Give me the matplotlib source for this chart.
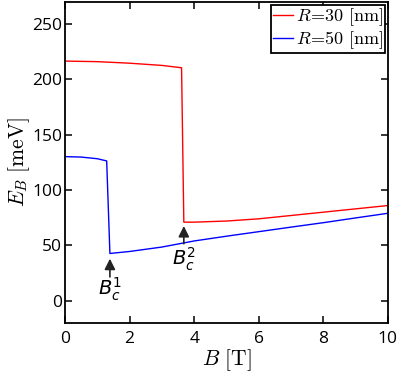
import matplotlib
matplotlib.use("Agg")
import matplotlib.pyplot as plt

plt.rcParams['font.family'] = ['Open Sans', 'DejaVu Sans']
plt.rcParams['mathtext.fontset'] = 'cm'

# R = 30 nm
b_r30 = [0, 1, 2, 3, 3.61, 3.68, 4, 5, 6, 7, 8, 9, 10]
e_r30 = [216.5, 216.0, 214.6, 212.6, 210.5, 71.0, 71.0, 72.0, 74.0, 77.0, 80.0, 83.0, 86.0]

# R = 50 nm
b_r50 = [0, 0.5, 1.0, 1.29, 1.39, 2, 3, 4, 5, 6, 7, 8, 9, 10]
e_r50 = [130.2, 129.8, 128.3, 126.3, 42.7, 44.5, 48.5, 54.0, 58.3, 62.4, 66.5, 70.5, 74.8, 79.0]

labels = [r'$R\!=\!30\ [\mathrm{nm}]$', r'$R\!=\!50\ [\mathrm{nm}]$']

fig = plt.figure(figsize=(3.99, 3.75), dpi=100)
ax = fig.add_axes([0.163, 0.139, 0.809, 0.856])

ax.plot(b_r30, e_r30, color='#ff0000', lw=1.0, label=labels[0])
ax.plot(b_r50, e_r50, color='#0000ff', lw=1.0, label=labels[1])

ax.set_xlim(0, 10)
ax.set_ylim(-20, 270)
ax.set_xticks([0, 2, 4, 6, 8, 10])
ax.set_yticks([0, 50, 100, 150, 200, 250])
ax.tick_params(direction='in', top=True, right=True, length=5, width=1.1, labelsize=12.5)
ax.tick_params(axis='x', pad=6)
ax.tick_params(axis='y', pad=2)
for s in ax.spines.values():
    s.set_linewidth(1.3)

ax.set_xlabel(r'$B\ [\mathrm{T}]$', fontsize=15.5, labelpad=0)
ax.set_ylabel(r'$E_B\ [\mathrm{meV}]$', fontsize=15.5, labelpad=0)

arr = dict(arrowstyle='-|>', color='#222222', lw=1.2, mutation_scale=16)
ax.annotate('', xy=(1.39, 40.5), xytext=(1.39, 19), arrowprops=arr)
ax.annotate('', xy=(3.68, 70), xytext=(3.68, 49), arrowprops=arr)
ax.text(1.39, 10, r'$B_c^1$', ha='center', va='center', fontsize=14,
        family=['DejaVu Sans'], math_fontfamily='dejavusans')
ax.text(3.68, 37, r'$B_c^2$', ha='center', va='center', fontsize=14,
        family=['DejaVu Sans'], math_fontfamily='dejavusans')

leg = ax.legend(loc='upper right', fontsize=13, fancybox=False, framealpha=1,
                borderpad=0.1, labelspacing=0.05, handlelength=1.1,
                handletextpad=0.2, borderaxespad=0.15)
leg.get_frame().set_edgecolor('black')
leg.get_frame().set_linewidth(1.3)

fig.savefig('out.png', dpi=100)
